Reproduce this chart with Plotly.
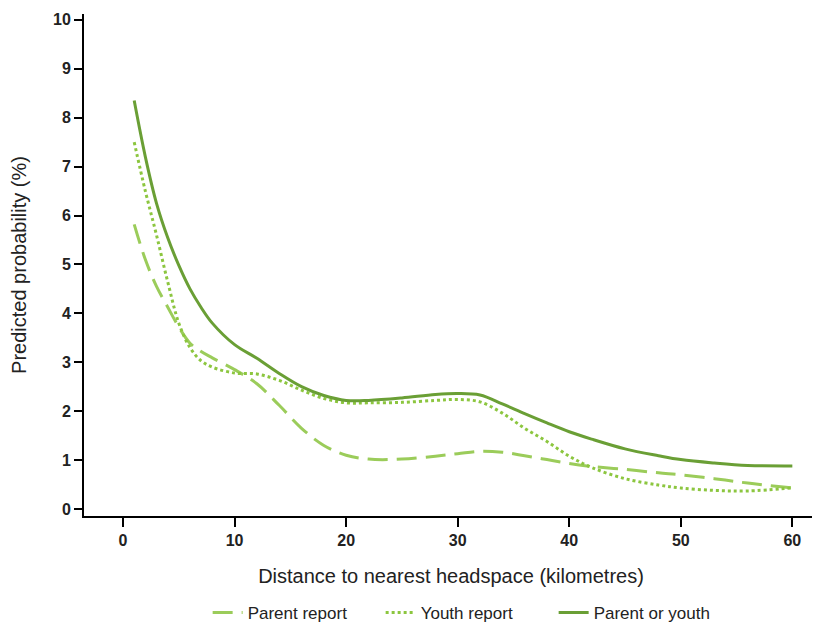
import plotly.graph_objects as go

distance = [1, 2, 3, 4, 5, 6, 7, 8, 10, 12, 14, 16, 18, 20, 22, 25, 28, 30, 32, 34, 36, 38, 40, 42, 45, 48, 50, 53, 56, 60]

parent_report = [5.82, 5.1, 4.55, 4.13, 3.72, 3.39, 3.22, 3.09, 2.85, 2.56, 2.12, 1.65, 1.3, 1.1, 1.02, 1.02, 1.08, 1.13, 1.18, 1.16, 1.09, 1.01, 0.93, 0.87, 0.81, 0.74, 0.70, 0.62, 0.53, 0.43]
youth_report = [7.5, 6.5, 5.6, 4.65, 3.8, 3.3, 3.03, 2.9, 2.78, 2.76, 2.63, 2.43, 2.26, 2.17, 2.17, 2.18, 2.22, 2.24, 2.19, 1.96, 1.65, 1.38, 1.08, 0.85, 0.62, 0.49, 0.43, 0.38, 0.37, 0.43]
parent_or_youth = [8.35, 7.2, 6.25, 5.55, 4.98, 4.5, 4.12, 3.8, 3.36, 3.08, 2.77, 2.50, 2.32, 2.22, 2.22, 2.27, 2.34, 2.36, 2.33, 2.15, 1.95, 1.76, 1.58, 1.43, 1.23, 1.09, 1.01, 0.94, 0.89, 0.88]

x_ticks = [0, 10, 20, 30, 40, 50, 60]
y_ticks = [0, 1, 2, 3, 4, 5, 6, 7, 8, 9, 10]

fig = go.Figure()
fig.add_trace(go.Scatter(x=distance, y=parent_report, mode="lines", name="Parent report",
                         line=dict(color="#9bcc5a", width=3, dash="20px,9px", shape="spline", smoothing=1.0)))
fig.add_trace(go.Scatter(x=distance, y=youth_report, mode="lines", name="Youth report",
                         line=dict(color="#8cc63f", width=3, dash="dot", shape="spline", smoothing=1.0)))
fig.add_trace(go.Scatter(x=distance, y=parent_or_youth, mode="lines", name="Parent or youth",
                         line=dict(color="#6a9f35", width=3, shape="spline", smoothing=1.0)))

tick_font = dict(family="Liberation Sans Narrow, Arial Narrow, Liberation Sans, Arial", size=16, color="#222")
# page body has an 8px margin, so the figure is 8px smaller and margins shifted accordingly
fig.update_layout(
    width=812, height=615,
    margin=dict(l=76, r=2, t=6, b=107, autoexpand=False),
    paper_bgcolor="white", plot_bgcolor="white",
    font=dict(family="Liberation Sans, Arial", size=17, color="#222"),
    showlegend=True,
    legend=dict(orientation="h", x=0.522, xanchor="center", yref="container", y=10 / 615, yanchor="middle",
                font=dict(size=17), entrywidth=128, entrywidthmode="pixels", tracegroupgap=0),
)
fig.update_xaxes(range=[-3.5, 62.3], tickvals=x_ticks, ticktext=[f"<b>{v}</b>" for v in x_ticks],
                 showgrid=False, zeroline=False, showline=True, linecolor="black", linewidth=2,
                 ticks="outside", ticklen=9, tickwidth=2, tickcolor="black", tickfont=tick_font,
                 automargin=False,
                 title=dict(text="Distance to nearest headspace (kilometres)", font=dict(size=20), standoff=21))
fig.update_yaxes(range=[-0.143, 10.12], tickvals=y_ticks, ticktext=[f"<b>{v}</b>" for v in y_ticks],
                 showgrid=False, zeroline=False, showline=True, linecolor="black", linewidth=2,
                 ticks="outside", ticklen=8, tickwidth=2, tickcolor="black", tickfont=tick_font,
                 automargin=False,
                 title=dict(text="Predicted probability (%)", font=dict(size=20), standoff=23))

fig.write_html("out.html")
